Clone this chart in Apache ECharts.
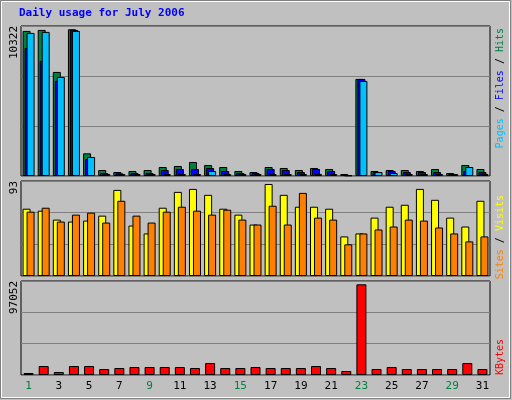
<!DOCTYPE html>
<html>
<head>
<meta charset="utf-8">
<script src="https://cdn.jsdelivr.net/npm/echarts@6/dist/echarts.min.js"></script>
<style>html,body{margin:0;padding:0;background:#c0c0c0}</style>
</head>
<body>
<div id="main" style="width:512px;height:400px"></div>
<script>
// days of July 2006, weekends shown in green
var days = [];
for (var i = 1; i <= 31; i++) days.push(String(i));
var weekend = ['1','2','8','9','15','16','22','23','29','30'];

var hits  = [10205,10275,7320,10322,1595,422,281,352,422,633,704,985,774,633,352,281,633,563,422,563,493,141,6827,352,422,422,352,493,211,774,493];
var files = [9009,8094,6686,10275,1196,211,188,211,211,422,493,493,563,352,211,211,493,422,281,493,352,70,6827,281,352,281,281,281,141,352,281];
var pages = [10064,10135,6968,10205,1337,141,141,141,141,141,141,141,352,141,141,141,141,141,141,141,141,40,6686,281,211,141,141,141,141,633,141];
var visits = [68,66,57,55,56,61,87,51,43,69,85,88,82,68,62,52,93,82,70,70,68,40,43,59,70,72,88,77,59,50,76];
var sites  = [65,69,55,62,64,54,76,61,54,65,70,66,62,67,57,52,71,52,84,59,57,32,43,47,50,57,56,49,43,35,40];
var kbytes = [2130,9600,3200,9600,9600,6400,7470,8530,8530,8530,8530,7470,12800,7470,7470,8530,7470,7470,7470,9600,7470,4270,97052,6400,8530,6400,6400,6400,6400,12800,6400];

var font = 'DejaVu Sans Mono';
var myChart = echarts.init(document.getElementById('main'));

function yax(idx, max){
    return {gridIndex:idx, type:'value', min:0, max:max, interval:max/3,
        axisLabel:{show:false}, axisLine:{show:false}, axisTick:{show:false},
        splitLine:{lineStyle:{color:'#808080', width:1}}};
}
function xax(idx, showLabel){
    return {gridIndex:idx, type:'category', data:days,
        axisLine:{show:false}, axisTick:{show:false},
        axisLabel:{show:showLabel, fontFamily:font, fontSize:11, margin:6,
            color:function(v){ return weekend.indexOf(v) >= 0 ? '#008040' : '#000000'; }}};
}
var bord = {borderColor:'#000', borderWidth:1};

option = {
    backgroundColor:'#c0c0c0',
    animation:false,
    grid:[
        {left:21, width:469, top:26, height:150, show:true, borderColor:'#000', borderWidth:1, backgroundColor:'#c0c0c0'},
        {left:21, width:469, top:181, height:95, show:true, borderColor:'#000', borderWidth:1, backgroundColor:'#c0c0c0'},
        {left:21, width:469, top:281, height:94, show:true, borderColor:'#000', borderWidth:1, backgroundColor:'#c0c0c0'}
    ],
    xAxis:[xax(0,false), xax(1,false), xax(2,true)],
    yAxis:[yax(0,10550), yax(1,96), yax(2,100600)],
    series:[
        {name:'Hits', type:'bar', xAxisIndex:0, yAxisIndex:0, data:hits, barWidth:8, barGap:'-75%', itemStyle:Object.assign({color:'#008040'}, bord)},
        {name:'Files', type:'bar', xAxisIndex:0, yAxisIndex:0, data:files, barWidth:8, barGap:'-75%', itemStyle:Object.assign({color:'#0000ff'}, bord)},
        {name:'Pages', type:'bar', xAxisIndex:0, yAxisIndex:0, data:pages, barWidth:8, barGap:'-75%', itemStyle:Object.assign({color:'#00c0ff'}, bord)},
        {name:'Visits', type:'bar', xAxisIndex:1, yAxisIndex:1, data:visits, barWidth:8, barGap:'-50%', itemStyle:Object.assign({color:'#ffff00'}, bord)},
        {name:'Sites', type:'bar', xAxisIndex:1, yAxisIndex:1, data:sites, barWidth:8, barGap:'-50%', itemStyle:Object.assign({color:'#ff8000'}, bord)},
        {name:'KBytes', type:'bar', xAxisIndex:2, yAxisIndex:2, data:kbytes, barWidth:10, itemStyle:Object.assign({color:'#ff0000'}, bord)}
    ],
    graphic:[
        {type:'rect', shape:{x:0.5, y:0.5, width:510, height:398}, style:{fill:'none', stroke:'#808080', lineWidth:1}, z:-1},
        {type:'rect', shape:{x:1.5, y:1.5, width:508, height:396}, style:{fill:'none', stroke:'#ffffff', lineWidth:1}, z:-1},
        {type:'text', left:19, top:8, style:{text:'Daily usage for July 2006', font:'bold 11px ' + font, fill:'#0000ff'}},
        {type:'text', x:14, y:26, rotation:Math.PI/2, style:{text:'10322', font:'11px ' + font, fill:'#000', align:'right', verticalAlign:'middle'}},
        {type:'text', x:14, y:181, rotation:Math.PI/2, style:{text:'93', font:'11px ' + font, fill:'#000', align:'right', verticalAlign:'middle'}},
        {type:'text', x:14, y:281, rotation:Math.PI/2, style:{text:'97052', font:'11px ' + font, fill:'#000', align:'right', verticalAlign:'middle'}},
        {type:'text', x:500, y:28, rotation:Math.PI/2, style:{
            text:'{p|Pages} {s|/} {f|Files} {s|/} {h|Hits}', align:'right', verticalAlign:'middle',
            font:'10px ' + font,
            rich:{p:{fill:'#00c0ff', font:'10px ' + font}, f:{fill:'#0000ff', font:'10px ' + font}, h:{fill:'#008040', font:'10px ' + font}, s:{fill:'#000', font:'10px ' + font}}}},
        {type:'text', x:500, y:195, rotation:Math.PI/2, style:{
            text:'{a|Sites} {s|/} {b|Visits}', align:'right', verticalAlign:'middle',
            font:'10px ' + font,
            rich:{a:{fill:'#ff8000', font:'10px ' + font}, b:{fill:'#ffff00', font:'10px ' + font}, s:{fill:'#000', font:'10px ' + font}}}},
        {type:'text', x:500, y:339, rotation:Math.PI/2, style:{text:'KBytes', font:'10px ' + font, fill:'#ff0000', align:'right', verticalAlign:'middle'}}
    ]
};
myChart.setOption(option, true);
</script>
</body>
</html>
